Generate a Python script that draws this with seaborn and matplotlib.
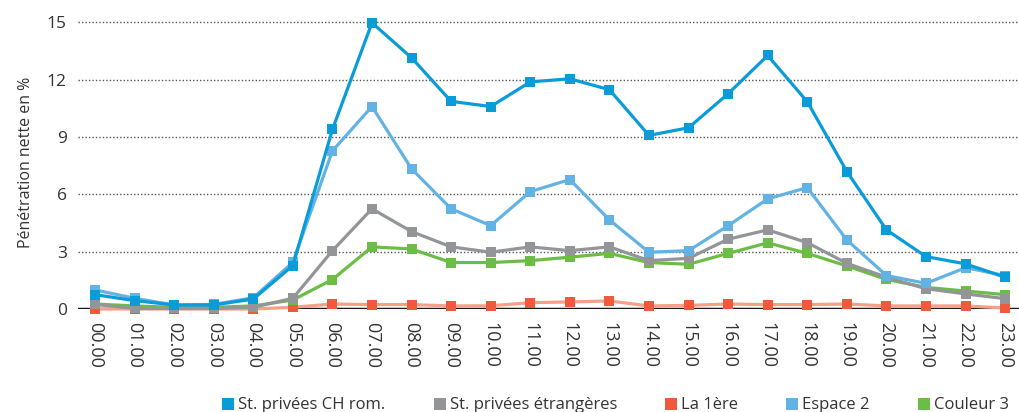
import numpy as np
import pandas as pd
import matplotlib
matplotlib.use("Agg")
import matplotlib.pyplot as plt
from matplotlib.lines import Line2D
import seaborn as sns

# ==========================================
# DATA
# ==========================================
hours = [f"{h:02d}.00" for h in range(24)]

ch_rom = [0.75, 0.44, 0.21, 0.21, 0.52, 2.27, 9.39, 14.97, 13.14, 10.86, 10.59, 11.88,
          12.04, 11.47, 9.08, 9.48, 11.26, 13.26, 10.84, 7.19, 4.14, 2.74, 2.36, 1.66]
etrangeres = [0.24, 0.03, 0.03, 0.03, 0.09, 0.56, 3.05, 5.24, 4.05, 3.25, 2.97, 3.25,
              3.05, 3.25, 2.53, 2.65, 3.65, 4.14, 3.47, 2.39, 1.66, 1.06, 0.79, 0.54]
la_1ere = [0.0, 0.0, 0.0, 0.0, 0.0, 0.09, 0.26, 0.23, 0.23, 0.16, 0.17, 0.33,
           0.37, 0.42, 0.16, 0.19, 0.26, 0.23, 0.23, 0.26, 0.16, 0.16, 0.16, 0.05]
espace_2 = [1.0, 0.56, 0.21, 0.24, 0.59, 2.44, 8.27, 10.59, 7.33, 5.24, 4.36, 6.14,
            6.77, 4.66, 2.97, 3.05, 4.36, 5.76, 6.35, 3.61, 1.75, 1.34, 2.16, 1.75]
couleur_3 = [0.26, 0.16, 0.09, 0.09, 0.16, 0.47, 1.54, 3.25, 3.14, 2.43, 2.43, 2.53,
             2.71, 2.91, 2.43, 2.34, 2.91, 3.46, 2.91, 2.25, 1.55, 1.13, 0.94, 0.75]

series_names = ["St. privées CH rom.", "St. privées étrangères", "La 1ère", "Espace 2", "Couleur 3"]
series_vals = [ch_rom, etrangeres, la_1ere, espace_2, couleur_3]
colors = ["#0a9bd9", "#939598", "#ef5a3d", "#62b3e4", "#6bbd45"]
line_colors = ["#0a9bd9", "#939598", "#f6a08a", "#62b3e4", "#6bbd45"]
yticks = [0, 3, 6, 9, 12, 15]

df = pd.DataFrame({"hour": np.tile(np.arange(len(hours)), len(series_names)),
                   "value": np.concatenate(series_vals),
                   "serie": np.repeat(series_names, len(hours))})

# ==========================================
# PLOT
# ==========================================
sns.set_style("white")
plt.rcParams["font.family"] = ["Open Sans", "DejaVu Sans"]

fig = plt.figure(figsize=(10.19, 4.12), dpi=100)
ax = fig.add_axes([0.0765, 0.25, 0.9235, 0.71])

# ordre de dessin: rouge en dessous, bleu foncé au-dessus
draw_order = [2, 4, 1, 3, 0]
for i in draw_order:
    sub = df[df["serie"] == series_names[i]]
    sns.lineplot(data=sub, x="hour", y="value", ax=ax, color=line_colors[i],
                 linewidth=2.3, marker="s", markersize=7.5, markerfacecolor=colors[i],
                 markeredgewidth=0, clip_on=False, zorder=3 + draw_order.index(i))

ax.set_xlim(-0.43, 23.35)
ax.set_ylim(0, 15.3)
ax.set_yticks(yticks)
ax.set_yticklabels([str(t) for t in yticks], fontsize=12.5, color="#333333")
ax.set_xticks(np.arange(len(hours)))
ax.set_xticklabels(hours, rotation=270, fontsize=13, color="#333333")
ax.tick_params(axis="x", length=0, pad=9)
ax.tick_params(axis="y", length=0, pad=8)
ax.set_xlabel("")
ax.set_ylabel("Pénétration nette en %", fontsize=11.5, color="#333333", labelpad=9)

for t in yticks[1:]:
    ax.axhline(t, color="#555555", linestyle=(0, (1, 1.5)), linewidth=1, zorder=1)
ax.axhline(0, color="#1a1a1a", linewidth=2.5, zorder=2)

for s in ["top", "right", "left", "bottom"]:
    ax.spines[s].set_visible(False)

handles = [Line2D([], [], marker="s", linestyle="none", markersize=9,
                  markerfacecolor=c, markeredgewidth=0) for c in colors]
fig.legend(handles, series_names, loc="lower right", bbox_to_anchor=(1.005, -0.04),
           ncol=5, frameon=False, fontsize=12, handletextpad=0.1, columnspacing=2.75,
           handlelength=1.0, labelcolor="#333333")

plt.savefig("out.png", dpi=100)
